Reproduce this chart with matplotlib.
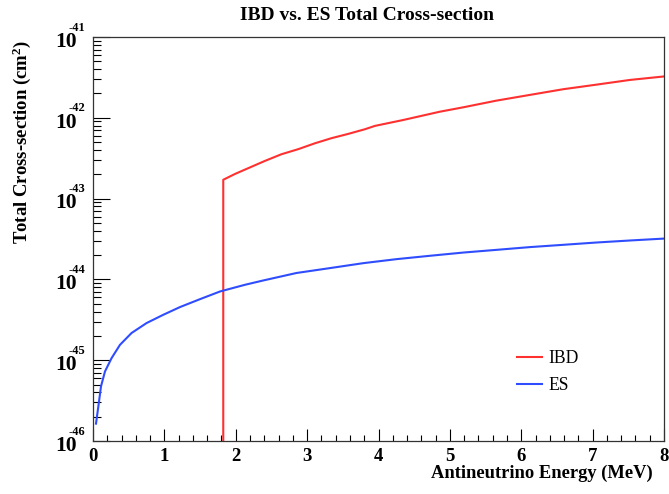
import matplotlib
matplotlib.use("Agg")
import matplotlib.pyplot as plt
from matplotlib.ticker import MultipleLocator, LogLocator, FixedLocator, NullFormatter

plt.rcParams["font.family"] = ["Liberation Serif", "DejaVu Serif"]
plt.rcParams["mathtext.fontset"] = "custom"
plt.rcParams["mathtext.rm"] = "Liberation Serif:bold"
plt.rcParams["mathtext.default"] = "rm"
plt.rcParams["axes.unicode_minus"] = False

# IBD total cross-section (cm^2) vs antineutrino energy (MeV); zero below threshold
ibd_energy = [1.806, 1.825, 1.99, 2.175, 2.41, 2.64, 2.875, 3.11, 3.34, 3.575,
              3.81, 3.95, 4.35, 4.86, 5.19, 5.65, 6.12, 6.59, 7.05, 7.52, 8.00]
ibd_xsec = [0.0, 1.71e-43, 2.02e-43, 2.38e-43, 2.93e-43, 3.54e-43, 4.09e-43,
            4.84e-43, 5.59e-43, 6.32e-43, 7.22e-43, 7.94e-43, 9.41e-43,
            1.19e-42, 1.35e-42, 1.63e-42, 1.92e-42, 2.26e-42, 2.57e-42,
            2.94e-42, 3.25e-42]

# elastic scattering total cross-section (cm^2)
es_energy = [0.042, 0.075, 0.112, 0.168, 0.26, 0.378, 0.54, 0.75, 0.985, 1.22,
             1.50, 1.78, 2.13, 2.385, 2.85, 3.32, 3.79, 4.25, 4.72, 5.19, 5.65,
             6.12, 6.59, 7.05, 7.52, 8.00]
es_xsec = [1.64e-46, 2.68e-46, 4.74e-46, 7.26e-46, 1.06e-45, 1.55e-45, 2.17e-45,
           2.88e-45, 3.65e-45, 4.55e-45, 5.70e-45, 7.09e-45, 8.58e-45, 9.70e-45,
           1.20e-44, 1.38e-44, 1.59e-44, 1.78e-44, 1.96e-44, 2.15e-44, 2.32e-44,
           2.51e-44, 2.68e-44, 2.86e-44, 3.03e-44, 3.20e-44]

y_decades = [-46, -45, -44, -43, -42, -41]

fig = plt.figure(figsize=(6.69, 4.94), dpi=100)
ax = fig.add_axes([93 / 669, 1 - 441 / 494, 571 / 669, 404 / 494])

ax.plot(ibd_energy, ibd_xsec, color="#ff3030", lw=1.5, label="IBD")
ax.plot(es_energy, es_xsec, color="#2f4dff", lw=1.5, label="ES")

ax.set_yscale("log", nonpositive="clip")
ax.set_xlim(0, 8)
ax.set_ylim(10.0 ** y_decades[0], 10.0 ** y_decades[-1])

ax.xaxis.set_major_locator(MultipleLocator(1))
ax.xaxis.set_minor_locator(MultipleLocator(0.2))
ax.yaxis.set_major_locator(FixedLocator([10.0 ** d for d in y_decades]))
ax.yaxis.set_minor_locator(LogLocator(base=10, subs=range(2, 10), numticks=20))
ax.yaxis.set_major_formatter(NullFormatter())
ax.yaxis.set_minor_formatter(NullFormatter())

ax.tick_params(which="both", direction="in", top=False, right=False, width=0.8)
ax.tick_params(axis="x", which="major", length=8.6, pad=5, labelsize=13.5)
ax.tick_params(axis="x", which="minor", length=4.3)
ax.tick_params(axis="y", which="major", length=12.2)
ax.tick_params(axis="y", which="minor", length=6)
for lab in ax.get_xticklabels():
    lab.set_fontweight("bold")
for sp in ax.spines.values():
    sp.set_linewidth(0.9)
    sp.set_color("#333333")

# decade labels: big "10" with a small raised exponent
for d in y_decades:
    ax.annotate("10", xy=(0, 10.0 ** d), xycoords=("axes fraction", "data"),
                xytext=(-11.5, -3.5), textcoords="offset points",
                ha="right", va="center", fontsize=15.5, fontweight="bold")
    ax.annotate("%d" % d, xy=(0, 10.0 ** d), xycoords=("axes fraction", "data"),
                xytext=(-17.3, 6.8), textcoords="offset points",
                ha="left", va="center", fontsize=9, fontweight="bold")

fig.text(367 / 669, 1 - 15 / 494, "IBD vs. ES Total Cross-section",
         ha="center", va="center", fontsize=14, fontweight="bold")
fig.text(653 / 669, 1 - 473 / 494, "Antineutrino Energy (MeV)",
         ha="right", va="center", fontsize=13.3, fontweight="bold")
fig.text(22 / 669, 1 - 40 / 494, r"Total Cross-section (cm$^{2}$)",
         ha="center", va="top", rotation=90, fontsize=13.5, fontweight="bold")

ax.legend(loc="upper left", bbox_to_anchor=(0.714, 0.265), frameon=False,
          fontsize=12.7, handlelength=1.45, handletextpad=0.35, labelspacing=0.6)

fig.savefig("out.png", dpi=100)
